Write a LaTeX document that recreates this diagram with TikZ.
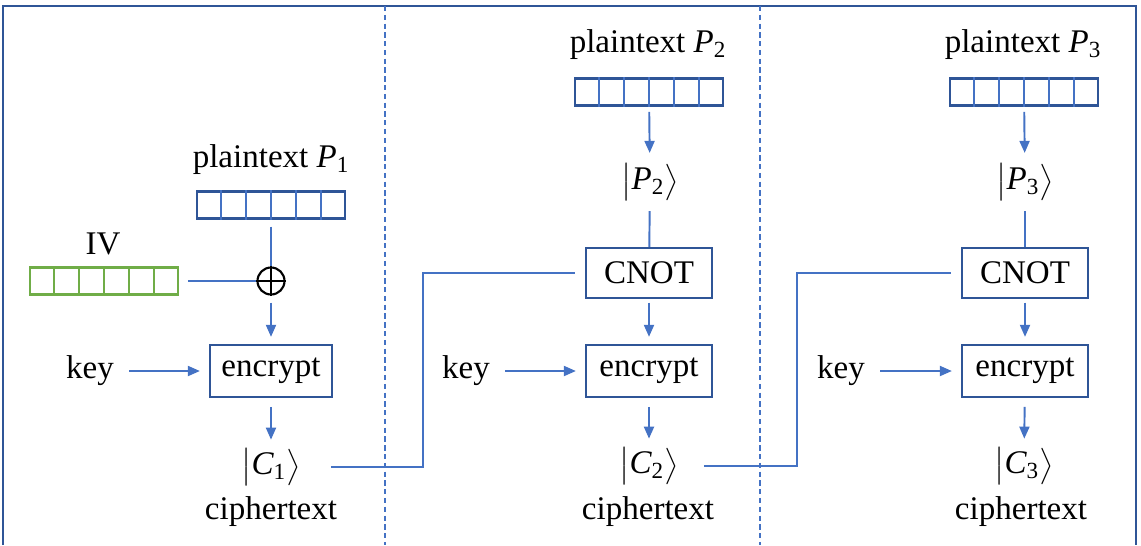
\documentclass[tikz,border=0pt]{standalone}
\usepackage{amsmath}
\usepackage{fontspec}
\setmainfont{LiberationSerif}[Extension=.ttf,UprightFont=*-Regular,ItalicFont=*-Italic,BoldFont=*-Bold,BoldItalicFont=*-BoldItalic]
\usetikzlibrary{arrows.meta,positioning,calc}

\definecolor{lineblue}{HTML}{4472C4}
\definecolor{darkblue}{HTML}{2F5597}
\definecolor{ivgreen}{HTML}{70AD47}

\newcommand{\ket}[2]{$\bigl|\textit{#1}_{\text{#2}}\bigr\rangle$}

\tikzset{
	conn/.style={lineblue,line width=1.1pt},
	arr/.style={conn,-{Triangle[length=2.4mm,width=2mm]}},
	opbox/.style={draw=darkblue,line width=1.3pt,minimum width=2.44cm,minimum height=1.04cm,inner sep=0pt},
	reg/.style={draw=#1,line width=1.2pt,minimum width=2.96cm,minimum height=0.54cm,inner sep=0pt},
	txt/.style={inner sep=0pt},
}

\begin{document}
\begin{tikzpicture}[x=0.02cm,y=-0.02cm,font=\fontsize{18.8}{22}\selectfont]
	\useasboundingbox (0,0) rectangle (1141,545);
	
	% Rahmen und Trennlinien
	\draw[darkblue,line width=1.1pt] (3,545) -- (3,6) -- (1136,6) -- (1136,545);
	\foreach \x in {385,760}
	\draw[lineblue,line width=0.8pt,dash pattern=on 3pt off 2pt] (\x,6) -- (\x,545);
	
	% Block 1
	\node[txt] (pt1) at (271,160) {plaintext $\textit{P}_{\text{1}}$};
	\node[reg=darkblue] (reg1) at (271,205) {};
	\node[txt] (ivl) at (103,244) {IV};
	\node[reg=ivgreen] (iv) at (104,281) {};
	\node[circle,draw,line width=1.2pt,minimum size=0.54cm,inner sep=0pt] (xor) at (271,281) {};
	\draw[line width=1.2pt] (xor.north) -- (xor.south) (xor.west) -- (xor.east);
	\node[opbox] (enc1) at (271,371) {encrypt};
	\node[txt] (key1) at (90,371) {key};
	\node[txt] (c1) at (271,467) {\ket{C}{1}};
	\node[txt] (ct1) at (271,512) {ciphertext};
	
	% Block 2
	\node[txt] (pt2) at (648,45) {plaintext $\textit{P}_{\text{2}}$};
	\node[reg=darkblue] (reg2) at (649,92) {};
	\node[txt] (p2) at (650,182) {\ket{P}{2}};
	\node[opbox,minimum width=2.52cm,minimum height=1cm] (cnot2) at (649,273) {CNOT};
	\node[opbox,minimum width=2.52cm] (enc2) at (649,371) {encrypt};
	\node[txt] (key2) at (466,371) {key};
	\node[txt] (c2) at (649,466) {\ket{C}{2}};
	\node[txt] (ct2) at (648,512) {ciphertext};
	
	% Block 3
	\node[txt] (pt3) at (1023,45) {plaintext $\textit{P}_{\text{3}}$};
	\node[reg=darkblue] (reg3) at (1024,92) {};
	\node[txt] (p3) at (1025,182) {\ket{P}{3}};
	\node[opbox,minimum width=2.52cm,minimum height=1cm] (cnot3) at (1025,273) {CNOT};
	\node[opbox,minimum width=2.52cm] (enc3) at (1025,371) {encrypt};
	\node[txt] (key3) at (841,371) {key};
	\node[txt] (c3) at (1024,466) {\ket{C}{3}};
	\node[txt] (ct3) at (1021,512) {ciphertext};
	
	% Register-Zellen
	\foreach \r in {reg1,reg2,reg3}
	\foreach \i in {1,...,5}
	\draw[lineblue,line width=1pt] ($(\r.south west)!\i/6!(\r.south east)$) -- ($(\r.north west)!\i/6!(\r.north east)$);
	\foreach \i in {1,...,5}
	\draw[ivgreen,line width=1pt] ($(iv.south west)!\i/6!(iv.south east)$) -- ($(iv.north west)!\i/6!(iv.north east)$);
	
	% Verbindungen
	\coordinate (bend1) at (423,371);
	\coordinate (bend2) at (797,371);
	\draw[conn,shorten <=4pt] (reg1) -- (xor);
	\draw[conn,shorten <=5pt] (iv) -- (xor);
	\draw[arr,shorten <=4pt,shorten >=4pt] (xor) -- (enc1);
	\draw[arr,shorten <=0.3cm,shorten >=0.18cm] (key1) -- (enc1);
	\draw[arr,shorten <=5pt,shorten >=5pt] (enc1) -- (c1);
	\draw[conn,shorten <=0.6cm,shorten >=0.2cm] (c1.east) -| (bend1) |- (cnot2.west);
	
	\draw[arr,shorten <=3pt,shorten >=6pt] (reg2) -- (p2);
	\draw[conn,shorten <=6pt] (p2) -- (cnot2);
	\draw[arr,shorten <=2pt,shorten >=4pt] (cnot2) -- (enc2);
	\draw[arr,shorten <=0.3cm,shorten >=0.18cm] (key2) -- (enc2);
	\draw[arr,shorten <=5pt,shorten >=5pt] (enc2) -- (c2);
	\draw[conn,shorten <=0.5cm,shorten >=0.2cm] (c2.east) -| (bend2) |- (cnot3.west);
	
	\draw[arr,shorten <=3pt,shorten >=6pt] (reg3) -- (p3);
	\draw[conn,shorten <=6pt] (p3) -- (cnot3);
	\draw[arr,shorten <=2pt,shorten >=4pt] (cnot3) -- (enc3);
	\draw[arr,shorten <=0.3cm,shorten >=0.18cm] (key3) -- (enc3);
	\draw[arr,shorten <=5pt,shorten >=5pt] (enc3) -- (c3);
	
\end{tikzpicture}
\end{document}
